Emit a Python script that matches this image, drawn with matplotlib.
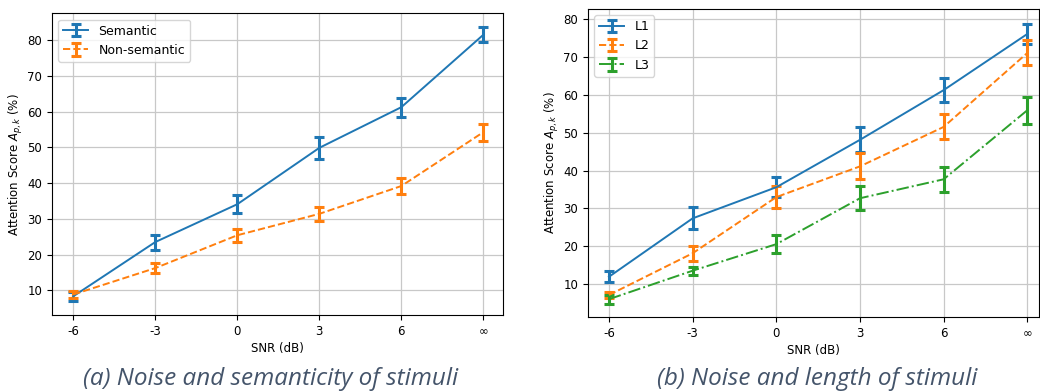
import matplotlib
matplotlib.use("Agg")
import matplotlib.pyplot as plt
import numpy as np

# SNR levels (x axis)
snr_labels = ["-6", "-3", "0", "3", "6", "\u221e"]

# (a) semanticity
semantic = [8.3, 23.5, 34.1, 49.9, 61.3, 81.6]
semantic_err = [1.2, 2.1, 2.5, 3.0, 2.7, 2.1]
non_semantic = [8.8, 16.2, 25.4, 31.4, 39.2, 54.3]
non_semantic_err = [1.0, 1.3, 1.8, 2.0, 2.2, 2.4]

# (b) length
l1 = [12.0, 27.4, 35.6, 48.1, 61.2, 76.0]
l1_err = [1.5, 2.9, 2.6, 3.3, 3.2, 2.7]
l2 = [7.2, 18.2, 33.0, 41.1, 51.5, 71.0]
l2_err = [0.9, 2.0, 3.0, 3.4, 3.3, 3.3]
l3 = [6.1, 13.6, 20.6, 32.7, 37.7, 55.9]
l3_err = [1.2, 1.1, 2.3, 3.2, 3.3, 3.6]

blue = "#1f77b4"
orange = "#ff7f0e"
green = "#2ca02c"

fig = plt.figure(figsize=(10.4, 3.92), dpi=100)
ax1 = fig.add_axes([0.05, 0.196, 0.4337, 0.770])
ax2 = fig.add_axes([0.5654, 0.1913, 0.4337, 0.786])

x = np.arange(len(snr_labels))
eb = dict(capsize=3.5, elinewidth=2.2, capthick=2.2, linewidth=1.4)

ax1.errorbar(x, semantic, yerr=semantic_err, color=blue, linestyle="-", label="Semantic", **eb)
ax1.errorbar(x, non_semantic, yerr=non_semantic_err, color=orange, linestyle="--", label="Non-semantic", **eb)
ax1.set_ylim(3, 87.6)

ax2.errorbar(x, l1, yerr=l1_err, color=blue, linestyle="-", label="L1", **eb)
ax2.errorbar(x, l2, yerr=l2_err, color=orange, linestyle="--", label="L2", **eb)
ax2.errorbar(x, l3, yerr=l3_err, color=green, linestyle="-.", label="L3", **eb)
ax2.set_ylim(1.4, 82.6)

for ax in (ax1, ax2):
    ax.set_xticks(x)
    ax.set_xticklabels(snr_labels)
    ax.set_yticks([10, 20, 30, 40, 50, 60, 70, 80])
    ax.tick_params(labelsize=8.5)
    ax.grid(True, color="#c8c8c8", linewidth=0.9)
    ax.set_axisbelow(True)
    ax.set_xlabel("SNR (dB)", fontsize=8.5, labelpad=3)
    ax.set_ylabel("Attention Score $A_{p,k}$ (%)", fontsize=8.5, labelpad=2)
    ax.legend(loc="upper left", fontsize=9, handlelength=2)

ax1.set_xlim(-0.26, 5.24)
ax2.set_xlim(-0.25, 5.14)

fig.text(0.26, 0.018, "(a) Noise and semanticity of stimuli", fontsize=17.5, style="italic",
         family="Open Sans", color="#44546a", ha="center")
fig.text(0.786, 0.018, "(b) Noise and length of stimuli", fontsize=17.5, style="italic",
         family="Open Sans", color="#44546a", ha="center")

fig.savefig("out.png", dpi=100)
